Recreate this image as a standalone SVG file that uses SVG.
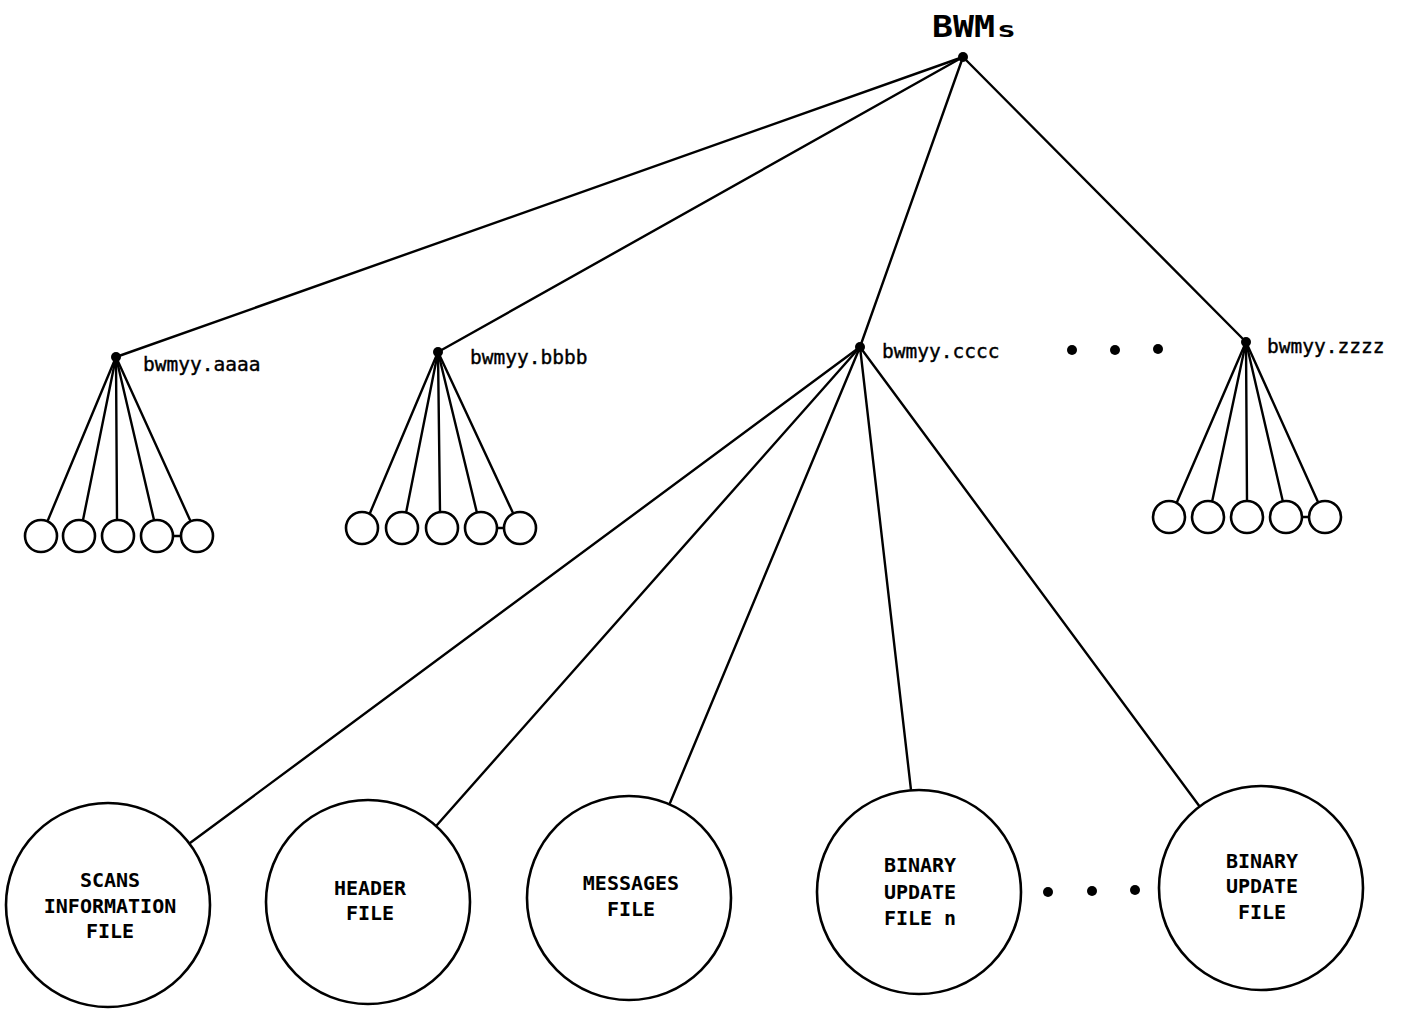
<svg xmlns="http://www.w3.org/2000/svg" width="1403" height="1009" viewBox="0 0 1403 1009">
<style>
.bg{fill:#fff}
.ln{stroke:#000;stroke-width:2.4;fill:none;stroke-linecap:round}
.sc{fill:#fff;stroke:#000;stroke-width:2.6}
.bc{fill:#fff;stroke:#000;stroke-width:2.6}
.dot{fill:#000}
.lbl{font-family:"DejaVu Sans Mono","Liberation Mono",monospace;font-size:19.5px;fill:#000;stroke:#000;stroke-width:0.4}
.ft{font-family:"DejaVu Sans Mono","Liberation Mono",monospace;font-size:20px;font-weight:bold;fill:#000;text-anchor:middle}
.title{font-family:"DejaVu Sans Mono","Liberation Mono",monospace;font-weight:bold;fill:#000}
</style>
<rect class="bg" x="0" y="0" width="1403" height="1009"/>
<g id="connectors">
<line class="ln" x1="963" y1="57" x2="116" y2="357"/>
<line class="ln" x1="963" y1="57" x2="438" y2="352"/>
<line class="ln" x1="963" y1="57" x2="860" y2="347"/>
<line class="ln" x1="963" y1="57" x2="1246" y2="342"/>
<line class="ln" x1="116" y1="357" x2="48" y2="520"/>
<line class="ln" x1="116" y1="357" x2="83" y2="520"/>
<line class="ln" x1="116" y1="357" x2="117" y2="520"/>
<line class="ln" x1="116" y1="357" x2="154" y2="520"/>
<line class="ln" x1="116" y1="357" x2="190" y2="520"/>
<line class="ln" x1="173" y1="536" x2="181" y2="536"/>
<line class="ln" x1="438" y1="352" x2="370" y2="513"/>
<line class="ln" x1="438" y1="352" x2="406" y2="513"/>
<line class="ln" x1="438" y1="352" x2="440" y2="512"/>
<line class="ln" x1="438" y1="352" x2="477" y2="513"/>
<line class="ln" x1="438" y1="352" x2="513" y2="513"/>
<line class="ln" x1="497" y1="528" x2="505" y2="528"/>
<line class="ln" x1="1246" y1="342" x2="1177" y2="502"/>
<line class="ln" x1="1246" y1="342" x2="1212" y2="502"/>
<line class="ln" x1="1246" y1="342" x2="1247" y2="501"/>
<line class="ln" x1="1246" y1="342" x2="1283" y2="502"/>
<line class="ln" x1="1246" y1="342" x2="1318" y2="502"/>
<line class="ln" x1="1302" y1="517" x2="1309" y2="517"/>
<line class="ln" x1="860" y1="347" x2="190" y2="843"/>
<line class="ln" x1="860" y1="347" x2="437" y2="825"/>
<line class="ln" x1="860" y1="347" x2="670" y2="803"/>
<line class="ln" x1="860" y1="347" x2="911" y2="790"/>
<line class="ln" x1="860" y1="347" x2="1200" y2="807"/>
</g>
<g id="root">
<circle class="dot" cx="963" cy="57" r="5"/>
<text class="title" x="932" y="37" font-size="31" textLength="63" lengthAdjust="spacingAndGlyphs">BWM</text>
<text class="title" x="997" y="37" font-size="22" textLength="19" lengthAdjust="spacingAndGlyphs">s</text>
</g>
<g id="node-aaaa">
<circle class="dot" cx="116" cy="357" r="5"/>
<text class="lbl" x="143" y="371">bwmyy.aaaa</text>
<circle class="sc" cx="41" cy="536" r="16"/>
<circle class="sc" cx="79" cy="536" r="16"/>
<circle class="sc" cx="118" cy="536" r="16"/>
<circle class="sc" cx="157" cy="536" r="16"/>
<circle class="sc" cx="197" cy="536" r="16"/>
</g>
<g id="node-bbbb">
<circle class="dot" cx="438" cy="352" r="5"/>
<text class="lbl" x="470" y="364">bwmyy.bbbb</text>
<circle class="sc" cx="362" cy="528" r="16"/>
<circle class="sc" cx="402" cy="528" r="16"/>
<circle class="sc" cx="442" cy="528" r="16"/>
<circle class="sc" cx="481" cy="528" r="16"/>
<circle class="sc" cx="520" cy="528" r="16"/>
</g>
<g id="node-cccc">
<circle class="dot" cx="860" cy="347" r="5"/>
<text class="lbl" x="882" y="358">bwmyy.cccc</text>
</g>
<g id="ellipsis-top">
<circle class="dot" cx="1072" cy="350" r="5"/>
<circle class="dot" cx="1115" cy="350" r="5"/>
<circle class="dot" cx="1158" cy="349" r="5"/>
</g>
<g id="node-zzzz">
<circle class="dot" cx="1246" cy="342" r="5"/>
<text class="lbl" x="1267" y="353">bwmyy.zzzz</text>
<circle class="sc" cx="1169" cy="517" r="16"/>
<circle class="sc" cx="1208" cy="517" r="16"/>
<circle class="sc" cx="1247" cy="517" r="16"/>
<circle class="sc" cx="1286" cy="517" r="16"/>
<circle class="sc" cx="1325" cy="517" r="16"/>
</g>
<g id="scans">
<circle class="bc" cx="108" cy="905" r="102"/>
<text class="ft" x="110" y="887">SCANS</text>
<text class="ft" x="110" y="913">INFORMATION</text>
<text class="ft" x="110" y="938">FILE</text>
</g>
<g id="header">
<circle class="bc" cx="368" cy="902" r="102"/>
<text class="ft" x="370" y="895">HEADER</text>
<text class="ft" x="370" y="920">FILE</text>
</g>
<g id="messages">
<circle class="bc" cx="629" cy="898" r="102"/>
<text class="ft" x="631" y="890">MESSAGES</text>
<text class="ft" x="631" y="916">FILE</text>
</g>
<g id="binary-n">
<circle class="bc" cx="919" cy="892" r="102"/>
<text class="ft" x="920" y="872">BINARY</text>
<text class="ft" x="920" y="899">UPDATE</text>
<text class="ft" x="920" y="925">FILE n</text>
</g>
<g id="ellipsis-bottom">
<circle class="dot" cx="1048" cy="892" r="5"/>
<circle class="dot" cx="1092" cy="891" r="5"/>
<circle class="dot" cx="1135" cy="890" r="5"/>
</g>
<g id="binary">
<circle class="bc" cx="1261" cy="888" r="102"/>
<text class="ft" x="1262" y="868">BINARY</text>
<text class="ft" x="1262" y="893">UPDATE</text>
<text class="ft" x="1262" y="919">FILE</text>
</g>
</svg>
